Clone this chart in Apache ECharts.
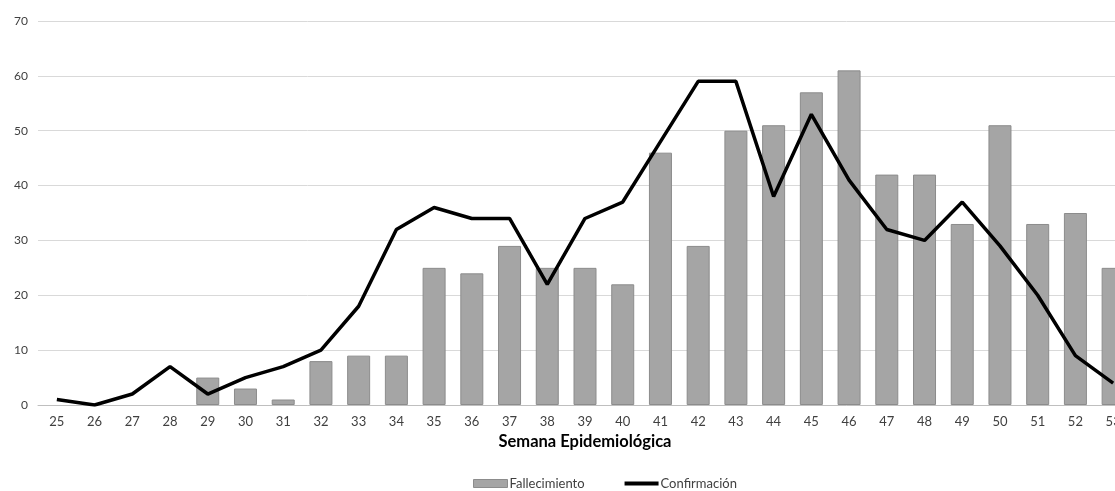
<!DOCTYPE html>
<html><head><meta charset="utf-8">
<script src="https://cdn.jsdelivr.net/npm/echarts@6/dist/echarts.min.js"></script>
<style>html,body{margin:0;padding:0;background:#fff}#c{width:1115px;height:491px}</style>
</head><body><div id="c"></div>
<script>
const weeks = ['25','26','27','28','29','30','31','32','33','34','35','36','37','38','39','40','41','42','43','44','45','46','47','48','49','50','51','52','53'];
const fallecimiento = [null,null,null,null,5,3,1,8,9,9,25,24,29,25,25,22,46,29,50,51,57,61,42,42,33,51,33,35,25];
const confirmacion = [1,0,2,7,2,5,7,10,18,32,36,34,34,22,34,37,48,59,59,38,53,41,32,30,37,29,20,9,4];
const yTicks = [0,10,20,30,40,50,60,70];

const chart = echarts.init(document.getElementById('c'), null, {renderer:'canvas'});
chart.setOption({
  animation:false,
  textStyle:{fontFamily:'Lato'},
  grid:{left:38,right:-17,top:21,bottom:86,containLabel:false,outerBoundsMode:'none'},
  legend:{
    top:477,left:473,itemGap:38,itemWidth:34,itemHeight:8,padding:0,
    textStyle:{color:'#404040',fontSize:13,fontFamily:'Lato',padding:[0,0,0,-3]},
    data:[
      {name:'Fallecimiento',icon:'rect',itemStyle:{color:'#a5a5a5',borderColor:'#8c8c8c',borderWidth:1}},
      {name:'Confirmación',itemStyle:{color:'transparent',borderWidth:0,opacity:0},lineStyle:{color:'#000',width:4}}
    ]
  },
  xAxis:{
    type:'category',data:weeks,
    name:'Semana Epidemiológica',nameLocation:'middle',nameGap:26,
    nameTextStyle:{color:'#000',fontSize:16.5,fontWeight:'bold',fontFamily:'Lato'},
    axisLine:{lineStyle:{color:'#bfbfbf',width:1}},
    axisTick:{show:false},
    axisLabel:{color:'#404040',fontSize:13,margin:10,interval:0}
  },
  yAxis:{
    type:'value',min:yTicks[0],max:yTicks[yTicks.length-1],interval:10,
    axisLine:{show:false},axisTick:{show:false},
    axisLabel:{color:'#404040',fontSize:12,margin:10},
    splitLine:{lineStyle:{color:'#d9d9d9',width:1}}
  },
  series:[
    {name:'Fallecimiento',type:'bar',data:fallecimiento,barWidth:23,
     itemStyle:{color:'#a5a5a5',borderColor:'#8c8c8c',borderWidth:1}},
    {name:'Confirmación',type:'line',data:confirmacion,symbol:'none',
     lineStyle:{color:'#000',width:3.5},itemStyle:{color:'#000'}}
  ]
});
</script></body></html>
